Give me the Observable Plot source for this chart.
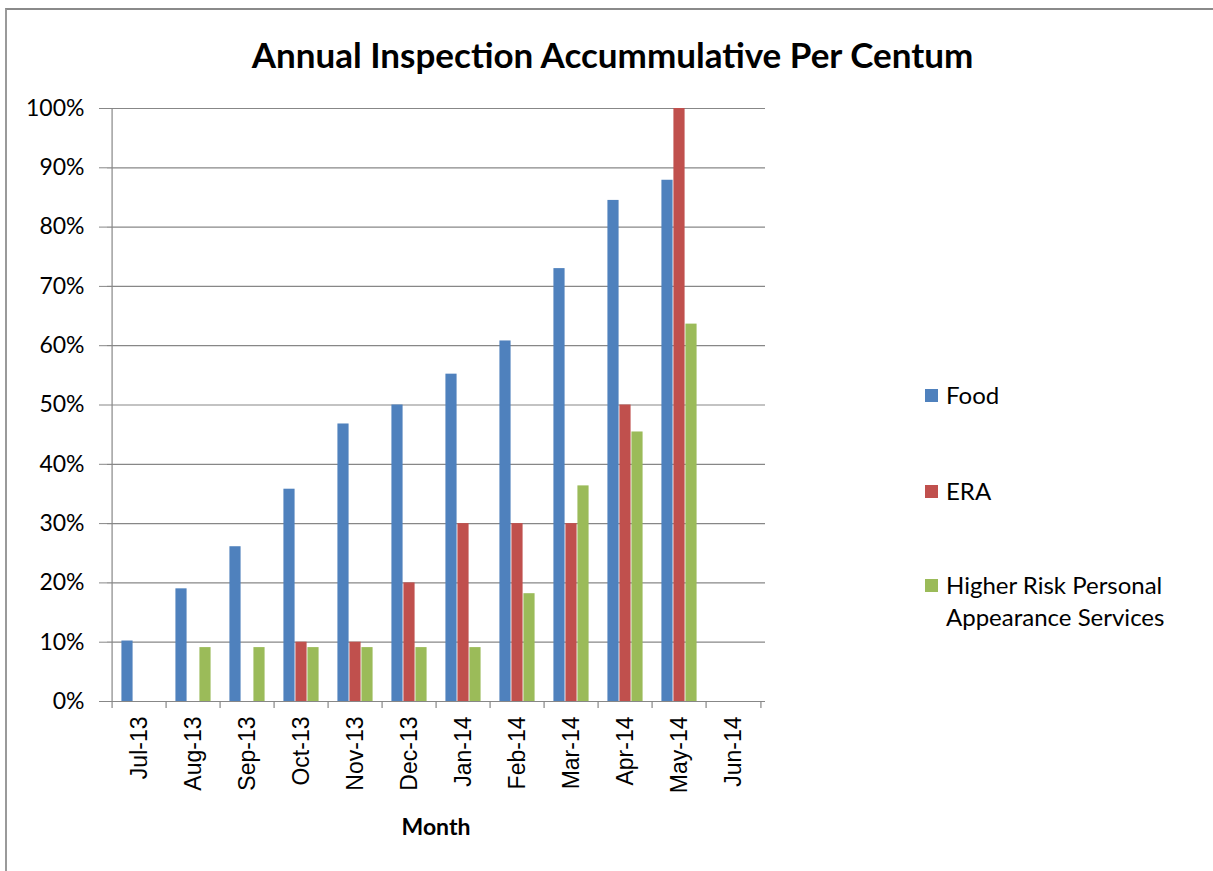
<!DOCTYPE html>
<html>
<head>
<meta charset="utf-8">
<script src="https://cdn.jsdelivr.net/npm/d3@7"></script>
<script src="https://cdn.jsdelivr.net/npm/@observablehq/plot@0.6"></script>
<style>
  html, body { margin: 0; padding: 0; background: #fff; }
  #wrap { position: relative; width: 1213px; height: 871px; overflow: hidden; }
  #border { position: absolute; left: 5px; top: 8px; width: 1300px; height: 900px;
            border-top: 2px solid #8a8a8a; border-left: 2px solid #9a9a9a; }
  #title { position: absolute; left: 0; width: 1225px; top: 33px; text-align: center;
           font-family: Lato, sans-serif; font-weight: bold; font-size: 35px; color: #000; }
  #xlabel { position: absolute; left: 336px; width: 200px; top: 812px; text-align: center;
            font-family: Lato, sans-serif; font-weight: bold; font-size: 23px; color: #000; }
  #legend { position: absolute; left: 925px; top: 0; font-family: Lato, sans-serif; font-size: 24px; color: #000; }
  .item { position: absolute; left: 0; white-space: nowrap; }
  .sw { position: absolute; left: 0; width: 13px; height: 13px; }
  .lt { position: absolute; left: 21px; line-height: 32px; }
  #chart { position: absolute; left: 0; top: 0; }
</style>
</head>
<body>
<div id="wrap">
  <div id="chart"></div>
  <div id="border"></div>
  <div id="title">Annual Inspection Accummulative Per Centum</div>
  <div id="xlabel">Month</div>
  <div id="legend"></div>
</div>
<script>
const months = ["Jul-13","Aug-13","Sep-13","Oct-13","Nov-13","Dec-13","Jan-14","Feb-14","Mar-14","Apr-14","May-14","Jun-14"];
const seriesNames = ["Food", "ERA", "Higher Risk Personal Appearance Services"];
const seriesColors = ["#4F81BD", "#C0504D", "#9BBB59"];
const food = [0.102, 0.190, 0.261, 0.358, 0.468, 0.500, 0.552, 0.608, 0.730, 0.845, 0.879, null];
const era  = [0.0, 0.0, 0.0, 0.10, 0.10, 0.20, 0.30, 0.30, 0.30, 0.50, 1.00, null];
const hrpas = [0.0, 0.0909, 0.0909, 0.0909, 0.0909, 0.0909, 0.0909, 0.1818, 0.3636, 0.4545, 0.6364, null];
const yTicks = [0, 0.1, 0.2, 0.3, 0.4, 0.5, 0.6, 0.7, 0.8, 0.9, 1.0];

const W = 1213, H = 871, mL = 107, mR = 448, mT = 108, mB = 170;
const bw = (W - mL - mR) / months.length;
const barW = 12;
const inset = (bw - barW) / 2;

const rows = (vals) => months.map((m, i) => ({month: m, value: vals[i]})).filter(d => d.value != null);
const seriesVals = [food, era, hrpas];
const offsets = [-barW, 0, barW];

const bars = seriesVals.map((vals, k) => Plot.barY(rows(vals), {
  x: "month", y: "value", fill: seriesColors[k],
  insetLeft: inset, insetRight: inset, dx: offsets[k]
}));

const chart = Plot.plot({
  width: W, height: H,
  marginLeft: mL, marginRight: mR, marginTop: mT, marginBottom: mB,
  style: {background: "transparent", overflow: "visible"},
  x: {domain: months, padding: 0, label: null},
  y: {domain: [0, 1], label: null},
  marks: [
    Plot.gridY(yTicks, {stroke: "#878787", strokeOpacity: 1, strokeWidth: 1.2}),
    ...bars,
    Plot.ruleX([months[0]], {dx: -bw / 2, stroke: "#878787", strokeWidth: 1.2}),
    Plot.ruleY([0], {stroke: "#878787", strokeWidth: 1.2}),
    Plot.ruleX(months, {x: d => d, y1: 0, y2: 0, insetBottom: -7, dx: -bw / 2, stroke: "#878787", strokeWidth: 1.2}),
    Plot.ruleX([months[months.length - 1]], {y1: 0, y2: 0, insetBottom: -7, dx: bw / 2, stroke: "#878787", strokeWidth: 1.2}),
    Plot.axisY(yTicks, {tickFormat: d3.format(".0%"), tickSize: 8, tickPadding: 15, stroke: "#878787",
      fontSize: 23, fontFamily: "Lato, sans-serif", fill: "#000", label: null}),
    Plot.axisX(months, {tickSize: 0, tickRotate: -90, tickPadding: 15,
      fontSize: 23, fontFamily: "Liberation Sans, Arial, sans-serif", fill: "#000", label: null})
  ]
});
document.getElementById("chart").appendChild(chart);

// legend
const legend = document.getElementById("legend");
const legendLines = [["Food"], ["ERA"], ["Higher Risk Personal", "Appearance Services"]];
const legendTops = [379, 475, 569];
legendLines.forEach((lines, k) => {
  const it = document.createElement("div");
  it.className = "item";
  it.style.top = legendTops[k] + "px";
  const sw = document.createElement("div");
  sw.className = "sw";
  sw.style.background = seriesColors[k];
  sw.style.top = "10px";
  it.appendChild(sw);
  lines.forEach((t, j) => {
    const s = document.createElement("div");
    s.className = "lt";
    s.style.top = (j * 32) + "px";
    s.textContent = t;
    it.appendChild(s);
  });
  legend.appendChild(it);
});
</script>
</body>
</html>
